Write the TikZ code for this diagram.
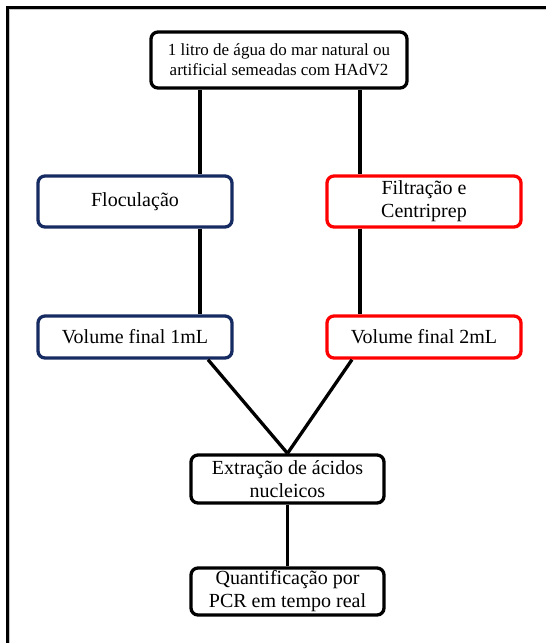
\documentclass[tikz,border=0pt]{standalone}
\usepackage{fontspec}
\setmainfont{Liberation Serif}
\usetikzlibrary{positioning}
\definecolor{navy}{RGB}{23,43,99}
\tikzset{
stepbox/.style = {draw, rounded corners=7pt, line width=3.3pt, align=center,
  inner sep=2pt, minimum width=#1, font=\fontsize{20}{23}\selectfont},
stepbox/.default = 194pt, % width of the box
bluebox/.style = {stepbox, draw=navy},
redbox/.style = {stepbox, draw=red},
link/.style = {line width=3.3pt}
}

\begin{document}
\begin{tikzpicture}[x=1pt, y=-1pt]
      \useasboundingbox (0,0) rectangle (546,643);
      % outer frame, cut by the page on the right and bottom
      \draw[gray!45, line width=1.2pt] (9.8,660) -- (9.8,9.8) -- (560,9.8);
      \draw[line width=3pt] (7.5,660) -- (7.5,7.5) -- (560,7.5);

      \node [stepbox=256pt, minimum height=56pt, font=\fontsize{17}{20}\selectfont]
            (sample) at (279,60) {1 litro de água do mar natural ou\\artificial semeadas com HAdV2};
      \node [bluebox, minimum height=51pt] (floc) at (135,201.5) {Floculação};
      \node [redbox, minimum height=51pt] (filt) at (424,201.5) {Filtração e\\Centriprep};
      \node [bluebox, minimum height=42pt] (vol1) at (135,337) {Volume final 1mL};
      \node [redbox, minimum height=42pt] (vol2) at (424,337) {Volume final 2mL};
      \node [stepbox=193pt, minimum height=48pt] (extr) at (287.5,479) {Extração de ácidos\\nucleicos};
      \node [stepbox=193pt, minimum height=47pt] (quant) at (287.5,591.5) {Quantificação por\\PCR em tempo real};

      \coordinate (xl) at (200,0);
      \coordinate (xr) at (360,0);
      \coordinate (dl) at (208,0);
      \coordinate (dr) at (352,0);

      \draw[link] (sample.south -| xl) -- (floc.north -| xl);
      \draw[link] (floc.south -| xl) -- (vol1.north -| xl);
      \draw[link] (sample.south -| xr) -- (filt.north -| xr);
      \draw[link] (filt.south -| xr) -- (vol2.north -| xr);
      \draw[link] (vol1.south -| dl) -- (extr.north);
      \draw[link] (vol2.south -| dr) -- (extr.north);
      \draw[link] (extr) -- (quant);
    \end{tikzpicture}
\end{document}
